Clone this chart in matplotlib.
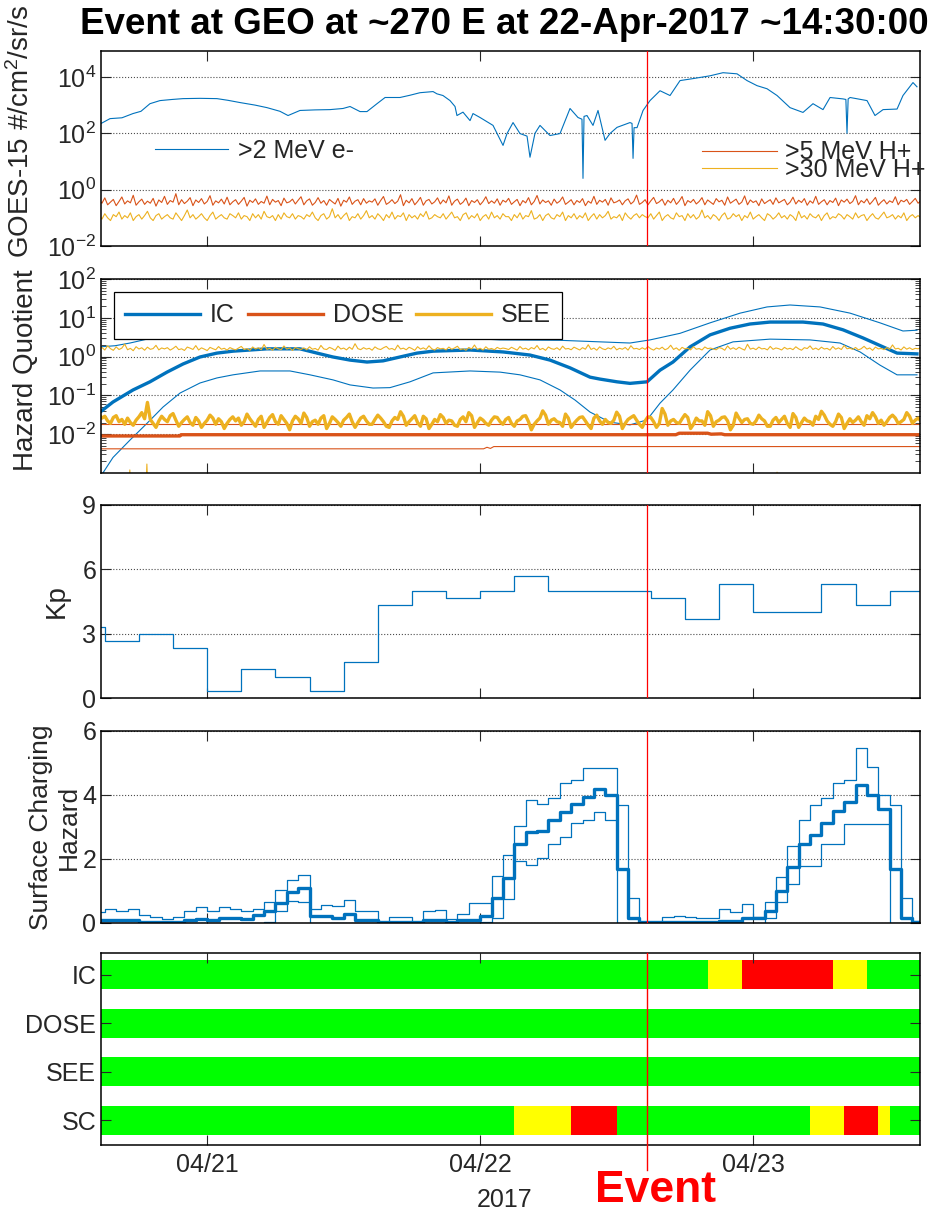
import numpy as np
import matplotlib
matplotlib.use("Agg")
import matplotlib.pyplot as plt
import matplotlib.dates as mdates
from matplotlib.ticker import LogLocator, NullLocator, NullFormatter, FixedLocator
from datetime import datetime, timedelta

plt.rcParams['font.family'] = ['Liberation Sans', 'DejaVu Sans']
plt.rcParams['mathtext.fontset'] = 'custom'
plt.rcParams['mathtext.rm'] = 'Liberation Sans'
plt.rcParams['mathtext.it'] = 'Liberation Sans:italic'
plt.rcParams['mathtext.bf'] = 'Liberation Sans:bold'
plt.rcParams['mathtext.default'] = 'regular'

# ---------------- data ----------------
TITLE = "Event at GEO at ~270 E at 22-Apr-2017 ~14:30:00"
BASE = datetime(2017, 4, 20, 14, 0)        # hour 0 of all hour lists
EVENT = datetime(2017, 4, 22, 14, 40)

# GOES-15 >2 MeV electrons (hours after BASE, log10 flux)
e_hours = [0.5, 1.46, 2.51, 3.48, 4.18, 4.97, 5.85, 6.91, 7.88, 9.37,
           10.86, 11.83, 12.89, 14.21, 15.26, 16.40, 17.11, 18.16, 19.48, 20.80,
           21.94, 22.56, 23.44, 24.05, 24.93, 25.64, 26.95, 27.83, 28.71, 29.86,
           30.20, 30.73, 31.35, 31.79, 31.96, 32.49, 33.11, 33.37, 33.99, 35.13,
           36.01, 36.36, 36.89, 37.50, 38.12, 38.38, 38.82, 39.26, 40.14, 41.02,
           41.90, 42.60, 42.95, 43.04, 43.13, 43.39, 43.92, 44.36, 44.98, 45.41,
           46.03, 47.17, 47.35, 47.44, 47.53, 47.79, 48.32, 48.93, 49.81, 50.69,
           51.57, 52.71, 54.21, 55.35, 56.58, 57.46, 58.34, 59.22, 60.10, 61.24,
           62.38, 63.26, 64.14, 64.76, 65.90, 66.15, 66.25, 66.35, 66.52, 68.01,
           68.71, 69.42, 70.65, 71.17, 72.05, 72.40]
e_log = [2.31, 2.52, 2.55, 2.70, 2.78, 3.05, 3.16, 3.20, 3.23, 3.24,
         3.23, 3.17, 3.09, 3.00, 2.91, 2.78, 2.63, 2.81, 2.83, 2.84,
         2.88, 2.95, 2.77, 2.77, 3.05, 3.27, 3.27, 3.35, 3.44, 3.48,
         3.40, 3.34, 3.16, 2.95, 2.63, 2.75, 2.45, 2.70, 2.56, 2.28,
         1.57, 1.99, 2.38, 1.99, 1.90, 1.15, 2.00, 2.28, 1.92, 1.99,
         2.88, 2.56, 2.50, 0.40, 2.60, 2.63, 2.28, 2.81, 1.75, 1.99,
         2.21, 2.38, 2.35, 1.11, 2.20, 2.20, 2.81, 3.16, 3.51, 3.34,
         3.87, 3.94, 4.04, 4.15, 4.11, 3.87, 3.69, 3.58, 3.34, 2.91,
         2.74, 3.05, 2.84, 3.27, 3.22, 3.20, 2.00, 3.22, 3.27, 3.16,
         2.63, 2.84, 2.86, 3.34, 3.80, 3.65]

# Proton fluxes, every 15 min starting 14:30 on 04/20
p5_flux = [0.42, 0.33, 0.51, 0.29, 0.36, 0.45, 0.27, 0.38, 0.55, 0.31, 0.40, 0.34, 0.63, 0.28, 0.37, 0.46, 0.30, 0.39, 0.33, 0.49, 0.26, 0.43, 0.35, 0.58,
           0.30, 0.41, 0.36, 0.72, 0.29, 0.44, 0.32, 0.39, 0.52, 0.27, 0.43, 0.35, 0.48, 0.31, 0.38, 0.61, 0.28, 0.40, 0.34, 0.46, 0.31, 0.54, 0.29, 0.37,
           0.44, 0.30, 0.39, 0.53, 0.26, 0.42, 0.35, 0.47, 0.30, 0.38, 0.33, 0.59, 0.29, 0.45, 0.36, 0.41, 0.27, 0.50, 0.34, 0.37, 0.46, 0.31, 0.42, 0.56,
           0.29, 0.40, 0.47, 0.28, 0.35, 0.52, 0.33, 0.41, 0.28, 0.45, 0.37, 0.31, 0.49, 0.26, 0.42, 0.36, 0.55, 0.30, 0.39, 0.44, 0.29, 0.48, 0.33, 0.40,
           0.36, 0.47, 0.28, 0.41, 0.57, 0.30, 0.35, 0.44, 0.32, 0.39, 0.66, 0.27, 0.42, 0.34, 0.48, 0.29, 0.38, 0.53, 0.28, 0.40, 0.45, 0.31, 0.37, 0.51,
           0.31, 0.43, 0.34, 0.60, 0.28, 0.39, 0.46, 0.30, 0.36, 0.50, 0.27, 0.41, 0.35, 0.44, 0.29, 0.38, 0.56, 0.32, 0.40, 0.33, 0.47, 0.28, 0.42, 0.36,
           0.49, 0.30, 0.37, 0.45, 0.27, 0.41, 0.34, 0.52, 0.29, 0.38, 0.62, 0.31, 0.43, 0.35, 0.40, 0.28, 0.46, 0.33, 0.39, 0.55, 0.30, 0.36, 0.44, 0.29,
           0.41, 0.35, 0.48, 0.27, 0.39, 0.33, 0.58, 0.30, 0.42, 0.36, 0.45, 0.28, 0.51, 0.34, 0.37, 0.43, 0.29, 0.40, 0.47, 0.31, 0.38, 0.64, 0.30, 0.35,
           0.44, 0.29, 0.40, 0.53, 0.32, 0.37, 0.46, 0.28, 0.42, 0.34, 0.49, 0.30, 0.39, 0.57, 0.27, 0.41, 0.35, 0.45, 0.31, 0.38, 0.52, 0.29, 0.43, 0.36,
           0.30, 0.48, 0.37, 0.42, 0.28, 0.55, 0.33, 0.39, 0.46, 0.30, 0.36, 0.60, 0.29, 0.43, 0.35, 0.40, 0.27, 0.47, 0.32, 0.38, 0.44, 0.30, 0.51, 0.34,
           0.39, 0.45, 0.29, 0.36, 0.54, 0.31, 0.42, 0.35, 0.48, 0.28, 0.40, 0.33, 0.58, 0.30, 0.37, 0.44, 0.29, 0.41, 0.35, 0.50, 0.27, 0.43, 0.36, 0.46,
           0.32, 0.38, 0.61, 0.29, 0.41, 0.34, 0.47, 0.30, 0.39, 0.53, 0.28, 0.36, 0.44, 0.31, 0.40, 0.35, 0.56, 0.29, 0.42, 0.37, 0.45, 0.30, 0.38, 0.49,
           0.33, 0.41, 0.36, 0.44]
p30_flux = [0.12, 0.09, 0.14, 0.10, 0.08, 0.13, 0.11, 0.16, 0.09, 0.12, 0.10, 0.15, 0.08, 0.11, 0.13, 0.09, 0.12, 0.17, 0.10, 0.08, 0.12, 0.14, 0.09, 0.11,
            0.13, 0.10, 0.09, 0.15, 0.11, 0.08, 0.12, 0.19, 0.10, 0.13, 0.09, 0.11, 0.14, 0.10, 0.08, 0.12, 0.16, 0.09, 0.11, 0.13, 0.10, 0.09, 0.14, 0.12,
            0.10, 0.15, 0.09, 0.12, 0.11, 0.08, 0.14, 0.10, 0.13, 0.09, 0.17, 0.11, 0.10, 0.12, 0.08, 0.13, 0.09, 0.15, 0.11, 0.10, 0.14, 0.09, 0.12, 0.11,
            0.09, 0.13, 0.11, 0.16, 0.10, 0.08, 0.12, 0.14, 0.09, 0.11, 0.21, 0.10, 0.13, 0.09, 0.12, 0.15, 0.08, 0.11, 0.10, 0.14, 0.09, 0.12, 0.18, 0.10,
            0.12, 0.09, 0.14, 0.11, 0.08, 0.13, 0.10, 0.16, 0.09, 0.12, 0.11, 0.15, 0.08, 0.13, 0.10, 0.12, 0.09, 0.14, 0.11, 0.17, 0.09, 0.10, 0.13, 0.11,
            0.10, 0.14, 0.09, 0.12, 0.16, 0.10, 0.11, 0.08, 0.13, 0.15, 0.09, 0.12, 0.10, 0.14, 0.08, 0.11, 0.13, 0.09, 0.16, 0.10, 0.12, 0.09, 0.14, 0.11,
            0.11, 0.08, 0.13, 0.10, 0.15, 0.09, 0.12, 0.11, 0.18, 0.09, 0.10, 0.13, 0.08, 0.12, 0.14, 0.10, 0.09, 0.13, 0.11, 0.16, 0.08, 0.12, 0.10, 0.14,
            0.09, 0.12, 0.10, 0.15, 0.08, 0.11, 0.14, 0.09, 0.13, 0.10, 0.12, 0.17, 0.09, 0.11, 0.10, 0.13, 0.08, 0.15, 0.11, 0.09, 0.12, 0.14, 0.10, 0.13,
            0.11, 0.10, 0.14, 0.09, 0.12, 0.16, 0.08, 0.11, 0.13, 0.10, 0.09, 0.15, 0.11, 0.12, 0.08, 0.14, 0.10, 0.13, 0.09, 0.11, 0.19, 0.10, 0.12, 0.09,
            0.13, 0.11, 0.08, 0.12, 0.15, 0.09, 0.10, 0.14, 0.11, 0.13, 0.08, 0.12, 0.10, 0.16, 0.09, 0.11, 0.13, 0.10, 0.08, 0.14, 0.12, 0.09, 0.11, 0.15,
            0.10, 0.12, 0.09, 0.13, 0.11, 0.08, 0.17, 0.10, 0.12, 0.09, 0.14, 0.11, 0.10, 0.13, 0.08, 0.12, 0.15, 0.09, 0.11, 0.10, 0.14, 0.12, 0.09, 0.13,
            0.11, 0.09, 0.15, 0.10, 0.12, 0.13, 0.08, 0.11, 0.14, 0.10, 0.09, 0.12, 0.16, 0.10, 0.11, 0.13, 0.09, 0.12, 0.10, 0.15, 0.08, 0.11, 0.13, 0.10,
            0.12, 0.10, 0.14, 0.11]

# Hazard quotients (hours after BASE, log10 value)
ic_med_hours = [0.5, 1.72, 3.48, 4.97, 6.47, 7.88, 9.37, 10.86, 12.27, 15.26,
                18.16, 19.66, 21.06, 22.56, 24.05, 25.46, 26.95, 28.45, 29.86, 33.11,
                36.01, 38.38, 40.14, 41.90, 43.66, 44.54, 46.03, 47.17, 48.67, 49.81,
                50.95, 52.45, 54.21, 55.96, 57.72, 59.48, 62.38, 64.14, 65.90, 67.66,
                69.42, 70.65, 72.40]
ic_med_log = [-1.45, -1.17, -0.86, -0.65, -0.40, -0.19, -0.01, 0.09, 0.14, 0.20,
              0.20, 0.09, -0.01, -0.09, -0.14, -0.11, -0.01, 0.09, 0.14, 0.17,
              0.12, 0.04, -0.09, -0.29, -0.53, -0.58, -0.65, -0.69, -0.65, -0.35,
              -0.14, 0.25, 0.56, 0.73, 0.84, 0.89, 0.89, 0.84, 0.69, 0.48,
              0.25, 0.09, 0.07]
ic_up_hours = [0.5, 1.90, 3.22, 4.71, 6.12, 9.37, 14.65, 18.16, 23.44, 28.71,
               33.11, 35.75, 41.02, 44.54, 47.17, 48.93, 51.57, 54.21, 56.85, 59.22,
               61.24, 63.88, 66.52, 69.15, 71.17, 72.40]
ic_up_log = [0.25, 0.28, 0.35, 0.45, 0.50, 0.58, 0.62, 0.62, 0.55, 0.58,
             0.47, 0.43, 0.42, 0.38, 0.35, 0.43, 0.60, 0.87, 1.12, 1.28,
             1.33, 1.28, 1.12, 0.87, 0.66, 0.68]
ic_lo_hours = [0.5, 1.72, 3.22, 4.71, 6.12, 7.61, 9.37, 10.86, 12.27, 14.65,
               17.28, 19.04, 21.06, 22.56, 24.58, 26.07, 27.83, 29.86, 33.11, 35.75,
               37.50, 39.26, 41.02, 42.34, 43.66, 45.41, 47.17, 48.67, 49.81, 50.95,
               52.45, 54.21, 56.23, 59.48, 63.00, 65.64, 67.40, 69.15, 70.65, 72.40]
ic_lo_log = [-3.15, -2.60, -2.15, -1.72, -1.30, -0.94, -0.68, -0.55, -0.47, -0.37,
             -0.37, -0.47, -0.60, -0.73, -0.81, -0.80, -0.65, -0.42, -0.37, -0.40,
             -0.47, -0.60, -0.86, -1.12, -1.43, -1.69, -1.76, -1.63, -1.20, -0.86,
             -0.35, 0.17, 0.38, 0.45, 0.43, 0.35, 0.12, -0.22, -0.47, -0.47]

dose_hours = [0.5, 7.6, 7.7, 51.2, 51.5, 54.0, 54.3, 55.2, 55.5, 73.0]
dose_med = [0.0090, 0.0090, 0.0097, 0.0097, 0.0106, 0.0106, 0.0100, 0.0102, 0.0097, 0.0097]
dose_up_hours = [0.5, 73.0]
dose_up = [0.0185, 0.0185]
dose_lo_hours = [0.5, 34.3, 34.6, 34.9, 35.2, 73.0]
dose_lo = [0.0042, 0.0042, 0.0046, 0.0043, 0.0048, 0.0048]

# SEE, every 15 min starting 14:30 on 04/20
see_up = [1.55, 1.72, 1.48, 1.90, 1.60, 1.45, 1.78, 1.52, 1.66, 2.10, 1.50, 1.63, 1.42, 1.80, 1.57, 1.69, 1.46, 1.75, 1.54, 1.61, 1.95, 1.49, 1.67, 1.58,
          1.70, 1.47, 1.62, 1.85, 1.51, 1.59, 1.44, 1.76, 1.65, 1.53, 1.92, 1.48, 1.68, 1.56, 1.43, 1.73, 1.60, 1.50, 1.81, 1.55, 1.64, 1.47, 1.71, 1.58,
          1.49, 1.66, 1.83, 1.52, 1.61, 1.45, 1.77, 1.57, 1.69, 1.50, 2.05, 1.54, 1.63, 1.46, 1.74, 1.59, 1.51, 1.88, 1.56, 1.67, 1.44, 1.72, 1.60, 1.53,
          1.68, 1.50, 1.79, 1.55, 1.62, 1.47, 1.94, 1.58, 1.52, 1.73, 1.61, 1.45, 1.86, 1.57, 1.66, 1.49, 1.75, 1.54, 2.15, 1.60, 1.51, 1.70, 1.56, 1.64,
          1.46, 1.78, 1.59, 1.52, 1.69, 1.83, 1.55, 1.62, 1.48, 1.97, 1.57, 1.65, 1.50, 1.74, 1.61, 1.45, 1.80, 1.56, 1.68, 1.53, 1.90, 1.59, 1.47, 1.71,
          1.58, 1.63, 1.49, 1.76, 1.54, 1.67, 1.85, 1.51, 1.60, 1.46, 1.72, 1.57, 1.99, 1.53, 1.64, 1.48, 1.79, 1.55, 1.62, 1.50, 1.73, 1.58, 1.66, 1.61,
          1.52, 1.74, 1.60, 1.47, 1.82, 1.56, 1.65, 1.49, 1.71, 1.58, 1.93, 1.51, 1.63, 1.45, 1.77, 1.60, 1.54, 1.69, 1.48, 1.86, 1.57, 1.62, 1.50, 1.75,
          1.61, 1.48, 1.70, 1.55, 2.02, 1.53, 1.66, 1.46, 1.78, 1.59, 1.51, 1.68, 1.57, 1.84, 1.49, 1.64, 1.55, 1.72, 1.47, 1.91, 1.58, 1.63, 1.52, 1.69,
          1.54, 1.81, 1.59, 1.47, 1.67, 1.56, 1.75, 1.50, 1.62, 1.96, 1.53, 1.68, 1.45, 1.73, 1.58, 1.64, 1.49, 1.80, 1.55, 1.61, 1.48, 1.77, 1.60, 1.66,
          1.57, 1.50, 1.71, 1.63, 1.46, 1.88, 1.55, 1.69, 1.52, 1.74, 1.59, 1.47, 2.08, 1.56, 1.65, 1.51, 1.76, 1.58, 1.62, 1.49, 1.83, 1.54, 1.67, 1.60,
          1.48, 1.73, 1.56, 1.64, 1.51, 1.79, 1.58, 1.46, 1.70, 1.61, 1.89, 1.53, 1.66, 1.50, 1.75, 1.57, 1.63, 1.47, 1.82, 1.55, 1.68, 1.52, 1.94, 1.59,
          1.65, 1.53, 1.72, 1.49, 1.60, 1.84, 1.56, 1.67, 1.45, 1.76, 1.58, 1.62, 1.51, 1.71, 1.54, 2.00, 1.57, 1.64, 1.48, 1.78, 1.55, 1.69, 1.52, 1.63,
          1.59, 1.70, 1.56, 1.66]
see_med = [0.032, 0.026, 0.029, 0.022, 0.019, 0.027, 0.030, 0.021, 0.024, 0.018, 0.026, 0.020, 0.017, 0.023, 0.028, 0.036, 0.025, 0.066, 0.024, 0.019, 0.015, 0.022, 0.029, 0.024,
           0.021, 0.030, 0.034, 0.023, 0.016, 0.020, 0.024, 0.028, 0.020, 0.017, 0.027, 0.022, 0.015, 0.019, 0.023, 0.031, 0.026, 0.018, 0.025, 0.021, 0.014, 0.019, 0.024, 0.028,
           0.022, 0.026, 0.017, 0.021, 0.033, 0.025, 0.020, 0.016, 0.024, 0.029, 0.015, 0.020, 0.027, 0.032, 0.021, 0.018, 0.030, 0.024, 0.019, 0.013, 0.022, 0.029, 0.025, 0.019,
           0.035, 0.027, 0.016, 0.021, 0.023, 0.018, 0.026, 0.030, 0.014, 0.019, 0.028, 0.024, 0.020, 0.016, 0.023, 0.027, 0.033, 0.021, 0.015, 0.020, 0.026, 0.029, 0.022, 0.018,
           0.018, 0.024, 0.031, 0.026, 0.021, 0.016, 0.015, 0.022, 0.027, 0.024, 0.038, 0.029, 0.017, 0.021, 0.025, 0.030, 0.020, 0.016, 0.029, 0.025, 0.014, 0.018, 0.024, 0.021,
           0.032, 0.027, 0.019, 0.023, 0.022, 0.017, 0.016, 0.024, 0.028, 0.021, 0.036, 0.030, 0.015, 0.020, 0.026, 0.023, 0.019, 0.017, 0.023, 0.028, 0.027, 0.021, 0.018, 0.024,
           0.027, 0.019, 0.016, 0.022, 0.024, 0.029, 0.030, 0.021, 0.013, 0.018, 0.022, 0.026, 0.040, 0.031, 0.018, 0.023, 0.025, 0.021, 0.020, 0.016, 0.033, 0.026, 0.015, 0.019,
           0.023, 0.027, 0.028, 0.022, 0.017, 0.014, 0.026, 0.031, 0.022, 0.018, 0.024, 0.020, 0.019, 0.023, 0.037, 0.029, 0.014, 0.019, 0.024, 0.027, 0.030, 0.023, 0.018, 0.015,
           0.022, 0.028, 0.027, 0.021, 0.015, 0.019, 0.046, 0.033, 0.017, 0.022, 0.024, 0.020, 0.019, 0.025, 0.032, 0.027, 0.014, 0.018, 0.026, 0.022, 0.022, 0.017, 0.038, 0.030,
           0.016, 0.021, 0.023, 0.027, 0.028, 0.022, 0.013, 0.017, 0.035, 0.026, 0.020, 0.024, 0.025, 0.019, 0.018, 0.022, 0.031, 0.025, 0.022, 0.016, 0.016, 0.023, 0.027, 0.020,
           0.024, 0.029, 0.019, 0.015, 0.034, 0.027, 0.015, 0.020, 0.026, 0.022, 0.021, 0.017, 0.029, 0.024, 0.039, 0.031, 0.022, 0.018, 0.016, 0.021, 0.033, 0.027, 0.014, 0.019,
           0.025, 0.020, 0.023, 0.028, 0.021, 0.017, 0.030, 0.025, 0.036, 0.028, 0.019, 0.023, 0.017, 0.021, 0.027, 0.031, 0.026, 0.019, 0.021, 0.024, 0.036, 0.029, 0.019, 0.023,
           0.026, 0.022, 0.021, 0.025]
see_lo_hours = [0.5, 3.1, 3.2, 3.3, 4.6, 4.7, 4.8, 60.0, 60.1, 60.2, 73.0]
see_lo = [3e-4, 3e-4, 1.2e-3, 3e-4, 3e-4, 1.7e-3, 3e-4, 3e-4, 1.05e-3, 3e-4, 3e-4]

# Kp, 3-hourly starting 2017-04-20 12:00
kp_start = datetime(2017, 4, 20, 12, 0)
kp_vals = [3.33, 2.67, 3.0, 2.33, 0.33, 1.33, 1.0, 0.33, 1.67, 4.33, 5.0, 4.67,
           5.0, 5.67, 5.0, 5.0, 5.0, 4.67, 3.67, 5.33, 4.0, 4.0, 5.33, 4.33, 5.0]

# Surface charging hazard, hourly from BASE
sc_med = [0.10, 0.10, 0.10, 0.10, 0.03, 0.03, 0.03, 0.03, 0.08, 0.14,
          0.09, 0.16, 0.16, 0.12, 0.24, 0.39, 0.62, 0.96, 1.09, 0.21,
          0.21, 0.16, 0.29, 0.10, 0.10, 0.03, 0.03, 0.03, 0.03, 0.08,
          0.08, 0.03, 0.08, 0.08, 0.22, 0.78, 1.40, 2.48, 2.84, 2.89,
          3.21, 3.47, 3.73, 3.94, 4.20, 3.99, 1.69, 0.15, 0.02, 0.02,
          0.02, 0.02, 0.02, 0.02, 0.02, 0.07, 0.07, 0.16, 0.16, 0.39,
          1.01, 1.74, 2.48, 2.76, 3.13, 3.49, 3.78, 4.30, 4.01, 3.55,
          1.69, 0.15, 0.02]
sc_up = [0.34, 0.45, 0.39, 0.45, 0.24, 0.19, 0.13, 0.19, 0.37, 0.50,
         0.39, 0.50, 0.45, 0.39, 0.45, 0.67, 1.02, 1.33, 1.50, 0.45,
         0.57, 0.52, 0.73, 0.39, 0.39, 0.03, 0.19, 0.19, 0.03, 0.37,
         0.41, 0.13, 0.27, 0.62, 0.62, 1.48, 2.13, 3.03, 3.83, 3.73,
         3.91, 4.36, 4.46, 4.83, 4.83, 4.83, 3.68, 0.77, 0.02, 0.02,
         0.18, 0.23, 0.20, 0.15, 0.15, 0.44, 0.33, 0.60, 0.18, 0.65,
         1.43, 2.42, 3.21, 3.70, 3.91, 4.36, 4.46, 5.47, 4.88, 3.99,
         3.70, 0.77, 0.07]
sc_lo = [0, 0, 0, 0, 0, 0, 0, 0, 0, 0,
         0, 0, 0, 0, 0, 0.03, 0.37, 0.70, 0.65, 0,
         0, 0, 0, 0, 0, 0, 0, 0, 0, 0,
         0, 0, 0, 0, 0.02, 0.15, 0.75, 1.95, 1.80, 2.03,
         2.48, 2.68, 3.13, 3.21, 3.47, 3.21, 0, 0, 0, 0,
         0, 0, 0, 0, 0, 0, 0, 0, 0, 0.15,
         0.65, 1.23, 1.77, 1.77, 2.48, 2.48, 3.10, 3.10, 3.10, 3.10,
         0, 0, 0]

# Hazard status: change times and levels (0 green, 1 yellow, 2 red)
status_rows = ['IC', 'DOSE', 'SEE', 'SC']
ic_changes = ['2017-04-22 20:00', '2017-04-22 23:00', '2017-04-23 07:00', '2017-04-23 10:00']
ic_levels = [0, 1, 2, 1, 0]
dose_changes = []
dose_levels = [0]
see_changes = []
see_levels = [0]
sc_changes = ['2017-04-22 03:00', '2017-04-22 08:00', '2017-04-22 12:00',
              '2017-04-23 05:00', '2017-04-23 08:00', '2017-04-23 11:00', '2017-04-23 12:00']
sc_levels = [0, 1, 2, 0, 1, 2, 1, 0]

# ---------------- styling ----------------
BLUE = '#0072BD'
ORANGE = '#D95319'
YELLOW = '#EDB120'
LEVEL_COLORS = {0: '#00FF00', 1: '#FFFF00', 2: '#FF0000'}
TXT = '#262626'
FS = 18
LFS = 20

XMIN = EVENT - timedelta(days=2)
XMAX = EVENT + timedelta(days=1)


def hrs(hlist):
    return [BASE + timedelta(hours=float(h)) for h in hlist]


def quarter_hourly(n):
    return [BASE + timedelta(minutes=30 + 15 * i) for i in range(n)]


W, H = 938, 1216
fig = plt.figure(figsize=(W / 100, H / 100), dpi=100)


def rect(top, bottom, left=101, right=920):
    return [left / W, 1 - bottom / H, (right - left) / W, (bottom - top) / H]


ax1 = fig.add_axes(rect(51, 246))
ax2 = fig.add_axes(rect(279, 473))
ax3 = fig.add_axes(rect(505, 698))
ax4 = fig.add_axes(rect(731, 923))
ax5 = fig.add_axes(rect(953, 1145))
axes = [ax1, ax2, ax3, ax4, ax5]

for ax in axes:
    ax.set_xlim(XMIN, XMAX)
    ax.xaxis.set_major_locator(mdates.DayLocator())
    ax.xaxis.set_major_formatter(mdates.DateFormatter('%m/%d'))
    ax.tick_params(which='both', direction='in', top=True, right=True,
                   labelsize=FS, colors=TXT, labelcolor=TXT)
    ax.tick_params(which='major', length=7, width=0.8)
    ax.tick_params(which='minor', length=3.5, width=0.6)
    for s in ax.spines.values():
        s.set_linewidth(1.1)
        s.set_color('black')
    if ax is not ax5:
        ax.tick_params(labelbottom=False)

gridkw = dict(linestyle=':', color='0.3', linewidth=0.8)

# ---- panel 1: GOES fluxes ----
ax1.set_yscale('log')
l_e, = ax1.plot(hrs(e_hours), 10 ** np.array(e_log), color=BLUE, lw=0.8, label='>2 MeV e-')
l5, = ax1.plot(quarter_hourly(len(p5_flux)), p5_flux, color=ORANGE, lw=0.8, label='>5 MeV H+')
l30, = ax1.plot(quarter_hourly(len(p30_flux)), p30_flux, color=YELLOW, lw=0.8, label='>30 MeV H+')
ax1.set_ylim(1e-2, 10 ** 4.92)
ax1.yaxis.set_major_locator(FixedLocator([1e-2, 1e0, 1e2, 1e4]))
ax1.yaxis.set_minor_locator(NullLocator())
ax1.yaxis.grid(True, **gridkw)
ax1.set_ylabel('GOES-15 #/cm$^{2}$/sr/s', fontsize=LFS, color=TXT, va='center')
ax1.yaxis.set_label_coords((21 - 101) / 819, 0.59)
leg_e = ax1.legend(handles=[l_e], loc='center left', bbox_to_anchor=(0.066, 0.487),
                   frameon=False, fontsize=FS, handlelength=2.9, handletextpad=0.4,
                   borderpad=0, borderaxespad=0)
for tx in leg_e.get_texts():
    tx.set_color(TXT)
ax1.add_artist(leg_e)
leg_p = ax1.legend(handles=[l5, l30], loc='center left', bbox_to_anchor=(0.734, 0.436),
                   frameon=False, fontsize=FS, handlelength=3.0, handletextpad=0.3,
                   borderpad=0, borderaxespad=0, labelspacing=-0.27)
for tx in leg_p.get_texts():
    tx.set_color(TXT)

# ---- panel 2: hazard quotient ----
ax2.set_yscale('log')
h_ic, = ax2.plot(hrs(ic_med_hours), 10 ** np.array(ic_med_log), color=BLUE, lw=2.4, label='IC')
ax2.plot(hrs(ic_up_hours), 10 ** np.array(ic_up_log), color=BLUE, lw=0.8)
ax2.plot(hrs(ic_lo_hours), 10 ** np.array(ic_lo_log), color=BLUE, lw=0.8)
h_dose, = ax2.plot(hrs(dose_hours), dose_med, color=ORANGE, lw=2.4, label='DOSE')
ax2.plot(hrs(dose_up_hours), dose_up, color=ORANGE, lw=0.8)
ax2.plot(hrs(dose_lo_hours), dose_lo, color=ORANGE, lw=0.8)
h_see, = ax2.plot(quarter_hourly(len(see_med)), see_med, color=YELLOW, lw=2.4, label='SEE')
ax2.plot(quarter_hourly(len(see_up)), see_up, color=YELLOW, lw=0.8)
ax2.plot(hrs(see_lo_hours), see_lo, color=YELLOW, lw=0.8)
ax2.set_ylim(1e-3, 1e2)
ax2.yaxis.set_major_locator(FixedLocator([1e-2, 1e-1, 1e0, 1e1, 1e2]))
ax2.yaxis.set_minor_locator(LogLocator(base=10, subs=np.arange(2, 10), numticks=30))
ax2.yaxis.set_minor_formatter(NullFormatter())
ax2.yaxis.grid(True, which='major', **gridkw)
ax2.set_ylabel('Hazard Quotient', fontsize=LFS, color=TXT, va='center')
ax2.yaxis.set_label_coords((26 - 101) / 819, 0.53)
leg2 = ax2.legend(handles=[h_ic, h_dose, h_see], loc='upper left',
                  bbox_to_anchor=((114 - 101) / 819, (473 - 292) / 194),
                  ncol=3, fontsize=FS, handlelength=3.0, handletextpad=0.4,
                  columnspacing=0.5, borderpad=0.45, borderaxespad=0,
                  fancybox=False, framealpha=1, edgecolor='black')
leg2.get_frame().set_linewidth(0.9)
for tx in leg2.get_texts():
    tx.set_color(TXT)

# ---- panel 3: Kp ----
kp_times = [kp_start + timedelta(hours=3 * i) for i in range(len(kp_vals) + 1)]
ax3.plot(kp_times, kp_vals + [kp_vals[-1]], color=BLUE, lw=0.9, drawstyle='steps-post')
ax3.set_ylim(0, 9)
ax3.set_yticks([0, 3, 6, 9])
ax3.yaxis.grid(True, **gridkw)
ax3.set_ylabel('Kp', fontsize=LFS, color=TXT, va='center')
ax3.yaxis.set_label_coords((57 - 101) / 819, 0.5)

# ---- panel 4: surface charging ----
sc_times = [BASE + timedelta(hours=i) for i in range(len(sc_med) + 1)]
ax4.plot(sc_times, sc_up + [sc_up[-1]], color=BLUE, lw=0.9, drawstyle='steps-post')
ax4.plot(sc_times, sc_lo + [sc_lo[-1]], color=BLUE, lw=0.9, drawstyle='steps-post')
ax4.plot(sc_times, sc_med + [sc_med[-1]], color=BLUE, lw=2.4, drawstyle='steps-post')
ax4.set_ylim(0, 6)
ax4.set_yticks([0, 2, 4, 6])
ax4.yaxis.grid(True, **gridkw)
ax4.set_ylabel('Surface Charging\nHazard', fontsize=19, color=TXT, va='center', linespacing=1.2)
ax4.yaxis.set_label_coords((55 - 101) / 819, 0.5)

# ---- panel 5: status bars ----
row_y = {'IC': 4, 'DOSE': 3, 'SEE': 2, 'SC': 1}
status = {'IC': (ic_changes, ic_levels), 'DOSE': (dose_changes, dose_levels),
          'SEE': (see_changes, see_levels), 'SC': (sc_changes, sc_levels)}
bar_h = 0.6
x0 = mdates.date2num(XMIN)
x1 = mdates.date2num(XMAX)
for name in status_rows:
    changes, levels = status[name]
    edges = [x0] + [mdates.date2num(datetime.strptime(c, '%Y-%m-%d %H:%M')) for c in changes] + [x1]
    for i, lev in enumerate(levels):
        ax5.broken_barh([(edges[i], edges[i + 1] - edges[i])], (row_y[name] - bar_h / 2, bar_h),
                        facecolors=LEVEL_COLORS[lev], edgecolor='none')
ax5.set_ylim(0.485, 4.45)
ax5.set_yticks([row_y[n] for n in status_rows])
ax5.set_yticklabels(status_rows)
ax5.tick_params(axis='x', pad=6)
ax5.set_xlabel('2017', fontsize=FS, color=TXT, va='center')
ax5.xaxis.set_label_coords((505 - 101) / 819, (1145 - 1200) / 192)

# ---- event marker ----
for ax in axes[:4]:
    ax.axvline(EVENT, color='#FF0000', lw=0.9, zorder=5)
ax5.axvline(EVENT, ymin=-0.13, ymax=1, color='#FF0000', lw=1.0, zorder=5, clip_on=False)
fig.text(655 / W, 1 - 1190 / H, 'Event', color='#FF0000', fontsize=32,
         fontweight='bold', ha='center', va='center')

fig.text(504 / W, 1 - 24 / H, TITLE, fontsize=26.5, fontweight='bold',
         ha='center', va='center', color='black')

fig.savefig('out.png', dpi=100)
